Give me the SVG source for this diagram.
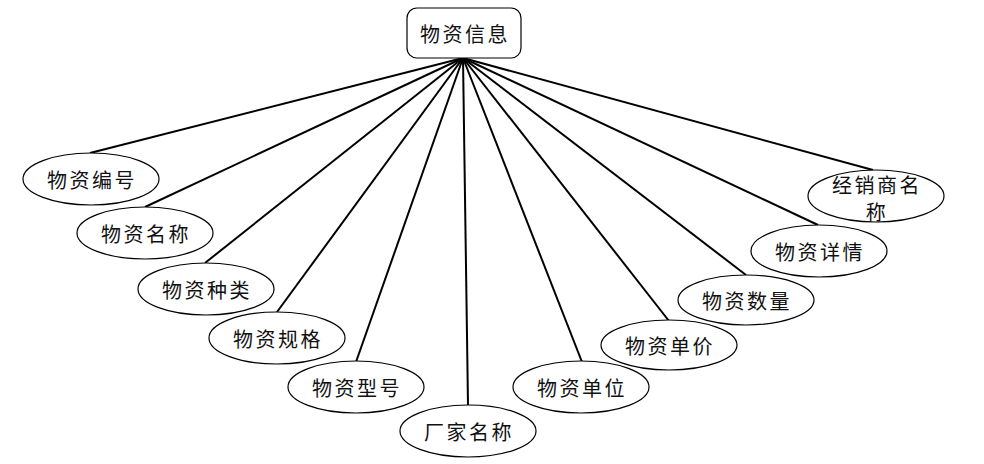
<svg xmlns="http://www.w3.org/2000/svg" width="984" height="464" viewBox="0 0 984 464">
<style>
.n{fill:#fff;stroke:#000;stroke-width:1.2}
.t{font-family:"Noto Sans CJK SC","Noto Sans",sans-serif;font-size:20px;fill:#111;text-anchor:middle;letter-spacing:2.5px;dominant-baseline:central}
.c line{stroke:#000;stroke-width:2}
</style>
<rect width="984" height="464" fill="#fff"/>
<g class="c" id="connectors">
<line x1="463" y1="58" x2="90" y2="153"/>
<line x1="463" y1="58" x2="145" y2="207"/>
<line x1="463" y1="58" x2="205" y2="263"/>
<line x1="463" y1="58" x2="277" y2="312"/>
<line x1="463" y1="58" x2="356" y2="362"/>
<line x1="463" y1="58" x2="468" y2="405"/>
<line x1="463" y1="58" x2="582" y2="362"/>
<line x1="463" y1="58" x2="669" y2="321"/>
<line x1="463" y1="58" x2="746" y2="275"/>
<line x1="463" y1="58" x2="818" y2="225"/>
<line x1="463" y1="58" x2="873" y2="170"/>
</g>
<g id="root"><rect class="n" x="407" y="8" width="114" height="50" rx="10"/><text class="t" x="465" y="33">物资信息</text></g>
<g id="n1"><ellipse class="n" cx="91" cy="179" rx="68" ry="26"/><text class="t" x="92" y="179">物资编号</text></g>
<g id="n2"><ellipse class="n" cx="145" cy="233" rx="68" ry="26"/><text class="t" x="146" y="233">物资名称</text></g>
<g id="n3"><ellipse class="n" cx="206" cy="289" rx="68" ry="26"/><text class="t" x="207" y="289">物资种类</text></g>
<g id="n4"><ellipse class="n" cx="277" cy="338" rx="68" ry="26"/><text class="t" x="278" y="338">物资规格</text></g>
<g id="n5"><ellipse class="n" cx="356" cy="387" rx="68" ry="26"/><text class="t" x="357" y="387">物资型号</text></g>
<g id="n6"><ellipse class="n" cx="468" cy="431" rx="68" ry="26"/><text class="t" x="469" y="431">厂家名称</text></g>
<g id="n7"><ellipse class="n" cx="581" cy="387" rx="68" ry="26"/><text class="t" x="582" y="387">物资单位</text></g>
<g id="n8"><ellipse class="n" cx="669" cy="345" rx="68" ry="25"/><text class="t" x="670" y="345">物资单价</text></g>
<g id="n9"><ellipse class="n" cx="746" cy="300" rx="68" ry="25"/><text class="t" x="747" y="300">物资数量</text></g>
<g id="n10"><ellipse class="n" cx="819" cy="251" rx="68" ry="26"/><text class="t" x="820" y="251">物资详情</text></g>
<g id="n11"><ellipse class="n" cx="876" cy="196" rx="68" ry="26"/><text class="t" x="877" y="184">经销商名</text><text class="t" x="877" y="211">称</text></g>
</svg>
